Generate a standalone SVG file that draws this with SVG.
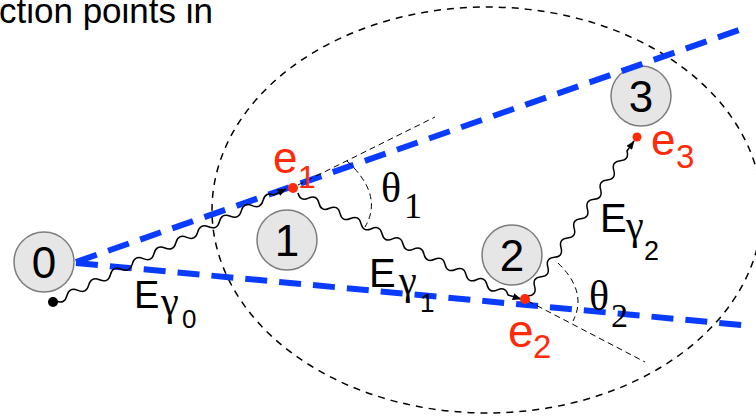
<svg xmlns="http://www.w3.org/2000/svg" width="756" height="418" viewBox="0 0 756 418">
<defs>
<style>
.node circle{fill:#e6e6e6;stroke:#7d7d7d;stroke-width:1.5}
.node text{font-family:"Liberation Sans",Arial,sans-serif;font-size:44px;text-anchor:middle;fill:#000}
.blue{fill:none;stroke:#0a3cff;stroke-width:6;stroke-dasharray:22 12}
.thin{fill:none;stroke:#000;stroke-width:1;stroke-dasharray:6 4}
.wave{fill:none;stroke:#000;stroke-width:1.5;marker-end:url(#arr)}
.red{fill:#ff2a0a}
.lbl{font-family:"Liberation Sans",Arial,sans-serif;fill:#000}
.gam{font-family:"Liberation Serif","Times New Roman",serif;fill:#000}
.ser{font-family:"Liberation Serif","Times New Roman",serif;fill:#000}
.rl{font-family:"Liberation Sans",Arial,sans-serif;fill:#ff2a0a}
</style>
<marker id="arr" viewBox="0 0 10 8" refX="9.5" refY="4" markerWidth="9" markerHeight="7" markerUnits="userSpaceOnUse" orient="auto">
<path d="M0,0 L10,4 L0,8 z" fill="#000"/>
</marker>
</defs>
<rect width="756" height="418" fill="#fff"/>
<text class="lbl" x="-1" y="23" font-size="35">ction points in</text>
<ellipse cx="487" cy="210" rx="275" ry="203" fill="none" stroke="#000" stroke-width="1.5" stroke-dasharray="7 6"/>
<g id="nodes">
<g id="node0" class="node"><circle cx="44" cy="262" r="30"/><text x="44" y="278">0</text></g>
<g id="node1" class="node"><circle cx="287" cy="240" r="30"/><text x="287" y="256">1</text></g>
<g id="node2" class="node"><circle cx="512" cy="255" r="30"/><text x="512" y="271">2</text></g>
<g id="node3" class="node"><circle cx="641" cy="96" r="30"/><text x="641" y="112">3</text></g>
</g>
<g id="connectors">
<path class="blue" d="M76,262 L742,29"/>
<path class="blue" d="M76,263 L752,326"/>
<path class="thin" d="M298,185 L435,117"/>
<path class="thin" d="M347,161 Q384,195 365,227"/>
<path class="thin" d="M528,301 L645,362"/>
<path class="thin" d="M558,263 Q588,292 573,321"/>
<path class="wave" d="M56,301 q8.51,3.65 10.9,-5.3 t10.9,-5.3 t10.9,-5.3 t10.9,-5.3 t10.9,-5.3 t10.9,-5.3 t10.9,-5.3 t10.9,-5.3 t10.9,-5.3 t10.9,-5.3 t10.9,-5.3 t10.9,-5.3 t10.9,-5.3 t10.9,-5.3 t10.9,-5.3 t10.9,-5.3 t10.9,-5.3 t10.9,-5.3 t10.9,-5.3 t10.9,-5.3 L286,189"/>
<path class="wave" d="M298,193 q2.19,8.85 10.5,5.1 t10.5,5.1 t10.5,5.1 t10.5,5.1 t10.5,5.1 t10.5,5.1 t10.5,5.1 t10.5,5.1 t10.5,5.1 t10.5,5.1 t10.5,5.1 t10.5,5.1 t10.5,5.1 t10.5,5.1 t10.5,5.1 t10.5,5.1 t10.5,5.1 t10.5,5.1 t10.5,5.1 t10.5,5.1 L521,299"/>
<path class="wave" d="M528,296 q9.08,-0.88 6.6,-9.667 t6.6,-9.667 t6.6,-9.667 t6.6,-9.667 t6.6,-9.667 t6.6,-9.667 t6.6,-9.667 t6.6,-9.667 t6.6,-9.667 t6.6,-9.667 t6.6,-9.667 t6.6,-9.667 t6.6,-9.667 t6.6,-9.667 t6.6,-9.667 L634,141"/>
</g>
<g id="points">
<circle cx="53" cy="302" r="5" fill="#000"/>
<circle class="red" cx="293" cy="188" r="5"/>
<circle class="red" cx="525" cy="299" r="5"/>
<circle class="red" cx="637" cy="137" r="4.5"/>
</g>
<g id="labels">
<text class="rl" x="273" y="173" font-size="44">e</text>
<text class="rl" x="298" y="188" font-size="32">1</text>
<text class="rl" x="508" y="347" font-size="46">e</text>
<text class="rl" x="533" y="358" font-size="33">2</text>
<text class="rl" x="651" y="155" font-size="44">e</text>
<text class="rl" x="676" y="168" font-size="33">3</text>
<text class="lbl" x="134" y="308" font-size="38">E</text>
<text class="gam" x="161" y="315" font-size="40">γ</text>
<text class="lbl" x="182" y="328" font-size="26">0</text>
<text class="lbl" x="369" y="287" font-size="40">E</text>
<text class="gam" x="399" y="294" font-size="40">γ</text>
<text class="lbl" x="420" y="312" font-size="26">1</text>
<text class="lbl" x="600" y="232" font-size="40">E</text>
<text class="gam" x="626" y="239" font-size="40">γ</text>
<text class="lbl" x="644" y="260" font-size="27">2</text>
<text class="ser" x="381" y="202" font-size="42">θ</text>
<text class="ser" x="404" y="218" font-size="36">1</text>
<text class="ser" x="589" y="310" font-size="42">θ</text>
<text class="ser" x="611" y="327" font-size="34">2</text>
</g>
</svg>
